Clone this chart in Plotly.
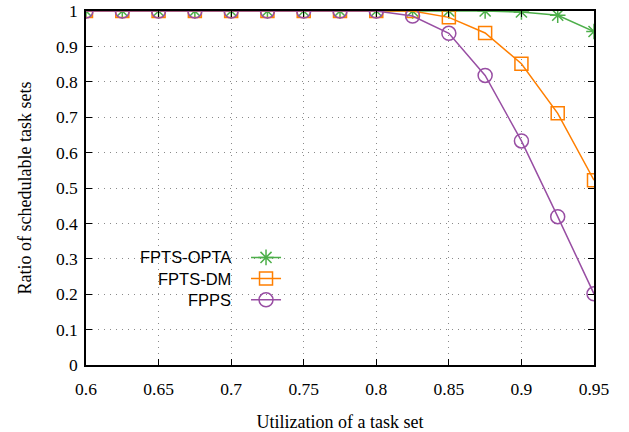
import plotly.graph_objects as go

x = [0.6, 0.625, 0.65, 0.675, 0.7, 0.725, 0.75, 0.775, 0.8, 0.825, 0.85, 0.875, 0.9, 0.925, 0.95]
opta = [1, 1, 1, 1, 1, 1, 1, 1, 1, 1, 1, 1, 0.997, 0.988, 0.942]
dm = [1, 1, 1, 1, 1, 1, 1, 1, 1, 1, 0.982, 0.938, 0.851, 0.711, 0.522]
fpps = [1, 1, 1, 1, 1, 1, 1, 1, 1, 0.986, 0.937, 0.818, 0.633, 0.419, 0.201]
names = ["FPTS-OPTA", "FPTS-DM", "FPPS"]
xticks = [0.6, 0.65, 0.7, 0.75, 0.8, 0.85, 0.9, 0.95]
xticklabels = ["0.6", "0.65", "0.7", "0.75", "0.8", "0.85", "0.9", "0.95"]
yticks = [0, 0.1, 0.2, 0.3, 0.4, 0.5, 0.6, 0.7, 0.8, 0.9, 1]
yticklabels = ["0", "0.1", "0.2", "0.3", "0.4", "0.5", "0.6", "0.7", "0.8", "0.9", "1"]

colors = ["#4daf4a", "#ff7f00", "#984ea3"]
symbols = ["asterisk-open", "square-open", "circle-open"]
sizes = [13, 13, 14]
series = [opta, dm, fpps]

fig = go.Figure()
for i in range(3):
    fig.add_trace(go.Scatter(
        x=x, y=series[i], mode="lines+markers", name=" ",
        line=dict(color=colors[i], width=1.5),
        marker=dict(symbol=symbols[i], size=sizes[i], color=colors[i],
                    line=dict(color=colors[i], width=1.5)),
        showlegend=True,
    ))

serif = "Liberation Serif, Times New Roman, serif"
sans = "Liberation Sans, Arial, sans-serif"
grid = dict(showgrid=True, gridcolor="#8a8a8a", griddash="1px,5px", gridwidth=1,
            showline=True, linecolor="black", linewidth=1.5, mirror="allticks",
            ticks="inside", ticklen=6, tickcolor="black", tickwidth=1.2, zeroline=False,
            automargin=False)
fig.update_layout(
    width=629, height=432,
    margin=dict(l=86, r=35, t=11, b=67),
    paper_bgcolor="white", plot_bgcolor="white",
    showlegend=True,
    legend=dict(x=0.315, y=0.348, xanchor="left", yanchor="top",
                bgcolor="rgba(0,0,0,0)", font=dict(family=sans, size=14, color="black"),
                itemwidth=30, tracegroupgap=0, traceorder="normal"),
    font=dict(family=serif, size=17, color="black"),
)
fig.update_xaxes(
    range=[0.6, 0.95], tickvals=xticks, ticktext=xticklabels, ticklabelstandoff=7,
    title=dict(text="Utilization of a task set", font=dict(family=serif, size=18), standoff=18),
    tickfont=dict(family=serif, size=17.5), **grid,
)
fig.update_yaxes(
    range=[0, 1], tickvals=yticks, ticktext=yticklabels, ticklabelstandoff=3,
    title=dict(text="Ratio of schedulable task sets", font=dict(family=serif, size=18), standoff=20),
    tickfont=dict(family=serif, size=17.5), **grid,
)
ann_y = [0.3042, 0.2421, 0.1836]
for k, nm in enumerate(names):
    fig.add_annotation(text=nm, xref="paper", yref="paper", x=0.290, y=ann_y[k],
                       xanchor="right", yanchor="middle", showarrow=False,
                       font=dict(family=sans, size=16.5, color="black"))
fig.write_html("out.html")
